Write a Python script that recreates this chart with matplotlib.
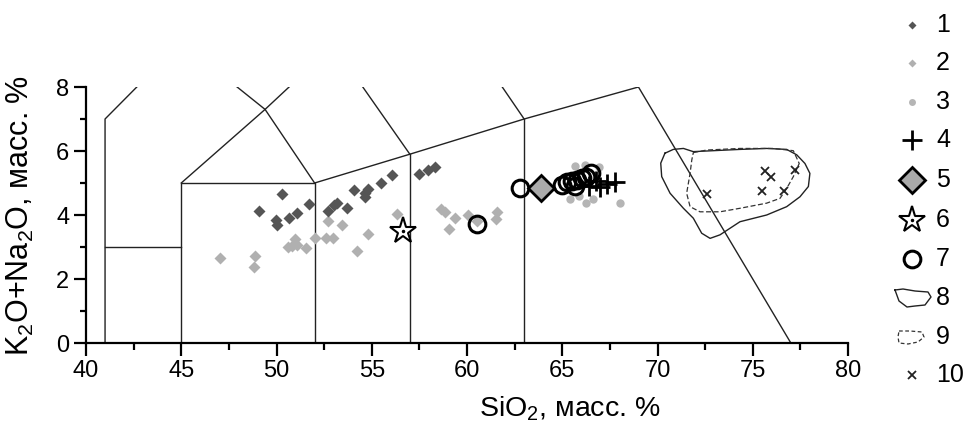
import matplotlib
matplotlib.use("Agg")
import matplotlib.pyplot as plt
from matplotlib import font_manager
from matplotlib.ticker import MultipleLocator

names = {f.name for f in font_manager.fontManager.ttflist}
FONT = "Liberation Sans Narrow" if "Liberation Sans Narrow" in names else "Liberation Sans"
plt.rcParams['font.family'] = [FONT, 'DejaVu Sans']
plt.rcParams['mathtext.fontset'] = 'custom'
plt.rcParams['mathtext.rm'] = FONT
plt.rcParams['mathtext.it'] = FONT

# ---- data ----
s1_x = [49.1, 50.3, 49.95, 50.0, 50.65, 51.1, 51.7, 52.7, 53.0, 53.15, 53.7,
        54.05, 54.65, 54.65, 54.8, 55.5, 56.05, 57.5, 57.95, 58.3]
s1_y = [4.13, 4.65, 3.84, 3.69, 3.92, 4.05, 4.33, 4.13, 4.31, 4.38, 4.21,
        4.78, 4.68, 4.57, 4.8, 4.99, 5.25, 5.27, 5.41, 5.51]

s2_x = [47.05, 48.85, 48.8, 50.95, 50.8, 50.6, 51.05, 51.55, 52.0, 52.6, 52.95,
        52.7, 53.45, 54.8, 54.2, 56.35, 58.65, 58.85, 59.35, 59.05, 60.05,
        60.5, 61.55, 61.5]
s2_y = [2.65, 2.72, 2.36, 3.24, 3.03, 2.99, 3.06, 2.98, 3.27, 3.27, 3.27,
        3.81, 3.69, 3.4, 2.88, 4.03, 4.18, 4.1, 3.92, 3.55, 4.0,
        3.81, 4.1, 3.88]

s3_x = [65.65, 66.2, 65.4, 66.25, 68.05, 66.95, 65.9, 66.6]
s3_y = [5.53, 5.56, 4.49, 4.38, 4.38, 5.51, 4.6, 4.5]

s4_x = [66.4, 66.75, 67.0, 67.35, 67.75]
s4_y = [4.9, 5.05, 4.88, 4.98, 5.02]

s5_x = [63.9]
s5_y = [4.83]

s6_x = [56.65]
s6_y = [3.51]

s7_x = [62.8, 60.5, 65.0, 65.25, 65.5, 65.8, 66.05, 66.25, 66.5, 65.65]
s7_y = [4.83, 3.72, 4.95, 5.03, 5.05, 5.1, 5.15, 5.2, 5.3, 4.92]

s8_x = [70.39, 70.83, 71.36, 71.88, 72.93, 74.33, 75.73, 76.78, 77.31, 77.74, 78.0,
        77.92, 77.48, 76.78, 75.73, 74.33, 73.28, 72.76, 72.32, 71.88, 71.36,
        70.66, 70.22, 70.17, 70.39]
s8_y = [5.93, 6.05, 6.08, 5.98, 6.01, 6.05, 6.08, 6.05, 5.88, 5.61, 5.3,
        4.89, 4.57, 4.26, 4.0, 3.79, 3.38, 3.27, 3.43, 3.9, 4.21,
        4.68, 5.2, 5.62, 5.93]

s9_x = [71.88, 72.58, 74.33, 76.08, 77.13, 77.44, 77.13, 76.78, 76.43, 75.73, 74.33,
        73.28, 72.23, 71.71, 71.53, 71.71, 71.8, 71.88]
s9_y = [5.95, 6.03, 6.08, 6.08, 6.01, 5.61, 5.2, 4.83, 4.52, 4.37, 4.21,
        4.1, 4.1, 4.26, 4.68, 5.3, 5.72, 5.95]

s10_x = [72.6, 75.65, 75.95, 75.5, 76.65, 77.2]
s10_y = [4.65, 5.39, 5.2, 4.76, 4.76, 5.41]

# TAS boundary lines (SiO2, Na2O+K2O)
tas_lines = [
    ([41, 41, 45], [0, 7, 9.4]),
    ([41, 45], [3, 3]),
    ([45, 45, 52, 52], [0, 5, 5, 0]),
    ([45, 49.4, 53], [5, 7.3, 9.3]),
    ([52, 49.4, 45], [5, 7.3, 9.4]),
    ([52, 57, 63, 69, 77.0], [5, 5.9, 7, 8, 0]),
    ([57, 57], [0, 5.9]),
    ([57, 53], [5.9, 9.3]),
    ([63, 63], [0, 7]),
    ([63, 57.6], [7, 11.7]),
]

legend_labels = ['1', '2', '3', '4', '5', '6', '7', '8', '9', '10']

fig = plt.figure(figsize=(9.63, 4.29), dpi=100)
ax = fig.add_axes([86/963, 86/429, 762/963, 256/429])

for xs, ys in tas_lines:
    ax.plot(xs, ys, color='#222222', lw=1.0, zorder=1)

ax.plot(s2_x, s2_y, 'D', color='#b0b0b0', ms=6.2, mec='none', zorder=3)
ax.plot(s1_x, s1_y, 'D', color='#555555', ms=6.2, mec='none', zorder=3)
ax.plot(s3_x, s3_y, 'o', color='#b5b5b5', ms=6, mec='none', zorder=3)
ax.plot(s8_x, s8_y, '-', color='#222222', lw=1.0, zorder=2)
ax.plot(s9_x, s9_y, '--', color='#333333', lw=0.9, dashes=(4, 2), zorder=2)
ax.plot(s10_x, s10_y, 'x', color='#222222', ms=6, mew=1.3, zorder=4)
ax.plot(s7_x, s7_y, 'o', mfc='none', mec='black', ms=12, mew=2.2, zorder=5)
ax.plot(s4_x, s4_y, '+', color='black', ms=14, mew=2.0, zorder=6)
ax.plot(s5_x, s5_y, 'D', mfc='#aaaaaa', mec='black', ms=13, mew=2.0, zorder=6)
ax.plot(s6_x, s6_y, '*', mfc='white', mec='black', ms=20, mew=1.5, zorder=6)
ax.plot(s6_x, s6_y, '.', color='black', ms=3, zorder=7)

ax.set_xlim(40, 80)
ax.set_ylim(0, 8)
ax.xaxis.set_major_locator(MultipleLocator(5))
ax.xaxis.set_minor_locator(MultipleLocator(2.5))
ax.yaxis.set_major_locator(MultipleLocator(2))
ax.yaxis.set_minor_locator(MultipleLocator(1))
ax.spines['top'].set_visible(False)
ax.spines['right'].set_visible(False)
for sp in ('left', 'bottom'):
    ax.spines[sp].set_linewidth(1.6)
ax.tick_params(axis='x', which='major', direction='out', length=9, width=1.6, labelsize=17, pad=3)
ax.tick_params(axis='x', which='minor', direction='out', length=5, width=1.6)
ax.tick_params(axis='y', which='major', direction='out', length=9, width=1.6, labelsize=17, pad=3)
ax.tick_params(axis='y', which='minor', direction='out', length=4.5, width=1.6)
ax.set_xlabel('SiO$_2$, масс. %', fontsize=20.5, labelpad=5)
ax.xaxis.set_label_coords(0.635, -0.2)
ax.xaxis.label.set_va('top')
ax.set_ylabel('K$_2$O+Na$_2$O, масс. %', fontsize=22, labelpad=4)
ax.yaxis.set_label_coords(-0.066, 0.5)

# ---- manual legend ----
lg = fig.add_axes([0, 0, 1, 1])
lg.set_xlim(0, 963)
lg.set_ylim(429, 0)
lg.axis('off')
rows_y = [25, 63, 102, 140, 180, 220, 259, 298, 337, 375]
mx = 912
lx = 936
lg.plot([mx], [rows_y[0]], 'D', color='#555555', ms=4.5, mec='none')
lg.plot([mx], [rows_y[1]], 'D', color='#b0b0b0', ms=4.5, mec='none')
lg.plot([mx], [rows_y[2]], 'o', color='#b5b5b5', ms=5, mec='none')
lg.plot([mx], [rows_y[3]], '+', color='black', ms=14, mew=2.0)
lg.plot([mx], [rows_y[4]], 'D', mfc='#aaaaaa', mec='black', ms=13, mew=2.0)
lg.plot([mx], [rows_y[5]], '*', mfc='white', mec='black', ms=20, mew=1.5)
lg.plot([mx], [rows_y[5]], '.', color='black', ms=3)
lg.plot([mx], [rows_y[6]], 'o', mfc='none', mec='black', ms=12, mew=2.2)
b8x = [895, 903, 915, 928, 931, 925, 915, 907, 899, 895]
b8y = [290, 289, 291, 292, 297, 305, 306, 307, 301, 290]
lg.plot(b8x, b8y, '-', color='#222222', lw=1.0)
b9x = [899, 910, 922, 924, 918, 908, 899, 898, 899]
b9y = [331, 331, 332, 337, 342, 344, 343, 337, 331]
lg.plot(b9x, b9y, '--', color='#333333', lw=0.9, dashes=(3, 2))
lg.plot([mx], [rows_y[9]], 'x', color='#222222', ms=6, mew=1.3)
for lab, yy in zip(legend_labels, rows_y):
    lg.text(lx, yy, lab, fontsize=18, va='center', ha='left')

fig.savefig('out.png', dpi=100)
